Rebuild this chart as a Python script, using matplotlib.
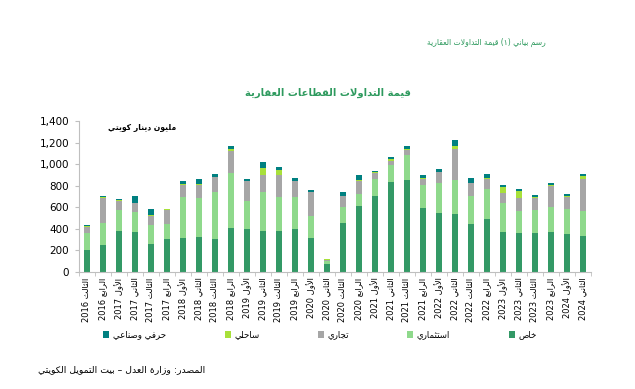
import re
import matplotlib
matplotlib.use("Agg")
import matplotlib.pyplot as plt
import numpy as np

# ---- Arabic shaping (matplotlib has no complex text layout) ----
BASE = {'ء': 0xFE80, 'آ': 0xFE81, 'أ': 0xFE83, 'ؤ': 0xFE85, 'إ': 0xFE87, 'ئ': 0xFE89,
        'ا': 0xFE8D, 'ب': 0xFE8F, 'ة': 0xFE93, 'ت': 0xFE95, 'ث': 0xFE99, 'ج': 0xFE9D,
        'ح': 0xFEA1, 'خ': 0xFEA5, 'د': 0xFEA9, 'ذ': 0xFEAB, 'ر': 0xFEAD, 'ز': 0xFEAF,
        'س': 0xFEB1, 'ش': 0xFEB5, 'ص': 0xFEB9, 'ض': 0xFEBD, 'ط': 0xFEC1, 'ظ': 0xFEC5,
        'ع': 0xFEC9, 'غ': 0xFECD, 'ف': 0xFED1, 'ق': 0xFED5, 'ك': 0xFED9, 'ل': 0xFEDD,
        'م': 0xFEE1, 'ن': 0xFEE5, 'ه': 0xFEE9, 'و': 0xFEED, 'ى': 0xFEEF, 'ي': 0xFEF1}
DUAL = set('ئبتثجحخسشصضطظعغفقكلمنهي')
LAMALEF = {'ا': 0xFEFB, 'أ': 0xFEF7, 'إ': 0xFEF9, 'آ': 0xFEF5}
MIRROR = str.maketrans('()', ')(')


def shape(s):
    out = []
    i = 0
    n = len(s)
    while i < n:
        c = s[i]
        if c not in BASE:
            out.append(c)
            i += 1
            continue
        prev_joins = i > 0 and s[i - 1] in DUAL
        if c == 'ل' and i + 1 < n and s[i + 1] in LAMALEF:
            out.append(chr(LAMALEF[s[i + 1]] + (1 if prev_joins else 0)))
            i += 2
            continue
        next_ar = i + 1 < n and s[i + 1] in BASE
        b = BASE[c]
        if c == 'ء':
            code = b
        elif c in DUAL:
            if prev_joins and next_ar:
                code = b + 3
            elif prev_joins:
                code = b + 1
            elif next_ar:
                code = b + 2
            else:
                code = b
        else:
            code = b + 1 if prev_joins else b
        out.append(chr(code))
        i += 1
    return ''.join(out)


def ar(s):
    s = shape(s)
    parts = re.split(r'([0-9A-Za-z]+)', s)
    vis = []
    for p in reversed(parts):
        if re.fullmatch(r'[0-9A-Za-z]+', p):
            vis.append(p)
        else:
            vis.append(p[::-1].translate(MIRROR))
    return ''.join(vis)


# ---- data (million KWD) ----
quarters = ['الثالث 2016', 'الرابع 2016',
            'الأول 2017', 'الثاني 2017', 'الثالث 2017', 'الرابع 2017',
            'الأول 2018', 'الثاني 2018', 'الثالث 2018', 'الرابع 2018',
            'الأول 2019', 'الثاني 2019', 'الثالث 2019', 'الرابع 2019',
            'الأول 2020', 'الثاني 2020', 'الثالث 2020', 'الرابع 2020',
            'الأول 2021', 'الثاني 2021', 'الثالث 2021', 'الرابع 2021',
            'الأول 2022', 'الثاني 2022', 'الثالث 2022', 'الرابع 2022',
            'الأول 2023', 'الثاني 2023', 'الثالث 2023', 'الرابع 2023',
            'الأول 2024', 'الثاني 2024']

khas = [200, 254, 384, 369, 260, 307, 316, 325, 307, 409, 403, 384, 384, 403, 313, 74,
        455, 610, 700, 833, 849, 592, 545, 533, 446, 492, 372, 365, 359, 372, 353, 334]
istithmari = [165, 198, 195, 188, 177, 142, 378, 359, 433, 505, 254, 356, 313, 294, 204, 25,
              149, 112, 161, 158, 238, 213, 276, 316, 254, 279, 263, 202, 217, 232, 232, 233]
tijari = [53, 238, 81, 81, 80, 130, 114, 127, 140, 210, 185, 155, 198, 145, 223, 12,
          96, 123, 53, 40, 40, 56, 105, 288, 127, 90, 99, 117, 112, 189, 112, 294]
sahili = [8, 2, 12, 2, 13, 3, 7, 3, 3, 16, 4, 68, 53, 3, 3, 5,
          3, 7, 12, 13, 10, 12, 3, 34, 2, 9, 53, 65, 3, 9, 3, 31]
hirafi = [12, 14, 6, 63, 55, 6, 24, 44, 24, 28, 18, 53, 24, 22, 16, 4,
          34, 46, 6, 24, 31, 25, 25, 55, 38, 34, 18, 22, 24, 22, 22, 15]

series = [('خاص', khas, '#339966'),
          ('استثماري', istithmari, '#8fd98c'),
          ('تجاري', tijari, '#a6a6a6'),
          ('ساحلي', sahili, '#a8e03a'),
          ('حرفي وصناعي', hirafi, '#008080')]

plt.rcParams['font.family'] = ['DejaVu Sans']

fig = plt.figure(figsize=(6.35, 3.89), dpi=100)
ax = fig.add_axes([0.1244, 0.3008, 0.8063, 0.3882])

x = np.arange(len(quarters))
bottom = np.zeros(len(quarters))
handles = []
for name, vals, col in series:
    h = ax.bar(x, vals, 0.42, bottom=bottom, color=col, edgecolor='none', label=ar(name))
    handles.append(h)
    bottom += np.array(vals)

ax.set_xlim(-0.5, len(quarters) - 0.5)
ax.set_ylim(0, 1400)
ax.set_yticks(np.arange(0, 1401, 200))
ax.set_yticklabels(['{:,}'.format(v) for v in range(0, 1401, 200)], fontsize=7.5)
ax.set_xticks(x)
ax.set_xticklabels([ar(q) for q in quarters], rotation=90, fontsize=6)
ax.set_xticks(np.arange(-0.5, len(quarters)), minor=True)
ax.tick_params(axis='x', which='major', length=0, pad=4)
ax.tick_params(axis='x', which='minor', length=3, color='#bfbfbf')
ax.tick_params(axis='y', length=3, color='#bfbfbf', pad=4)
for sp in ['top', 'right']:
    ax.spines[sp].set_visible(False)
for sp in ['left', 'bottom']:
    ax.spines[sp].set_color('#bfbfbf')
    ax.spines[sp].set_linewidth(0.8)

ax.text(0.057, 0.955, ar('مليون دينار كويتي'), transform=ax.transAxes,
        fontsize=5.5, fontweight='bold', ha='left', va='center')

fig.text(546 / 635, 1 - 42 / 389, ar('رسم بياني (١) قيمة التداولات العقارية'),
         fontsize=5.5, color='#2e9a5e', ha='right', va='center')
fig.text(328 / 635, 1 - 93 / 389, ar('قيمة التداولات القطاعات العقارية'),
         fontsize=7.2, fontweight='bold', color='#2e9a5e', ha='center', va='center')
fig.text(205 / 635, 1 - 370 / 389, ar('المصدر: وزارة العدل – بيت التمويل الكويتي'),
         fontsize=6.7, ha='right', va='center')

fig.legend(handles[::-1], [ar(s[0]) for s in series[::-1]], loc='center',
           bbox_to_anchor=(320 / 635, 1 - 335 / 389), ncol=5, frameon=False,
           fontsize=6.2, handlelength=0.7, handleheight=0.7, handletextpad=0.4,
           columnspacing=6.8)

fig.savefig('out.png', dpi=100)
